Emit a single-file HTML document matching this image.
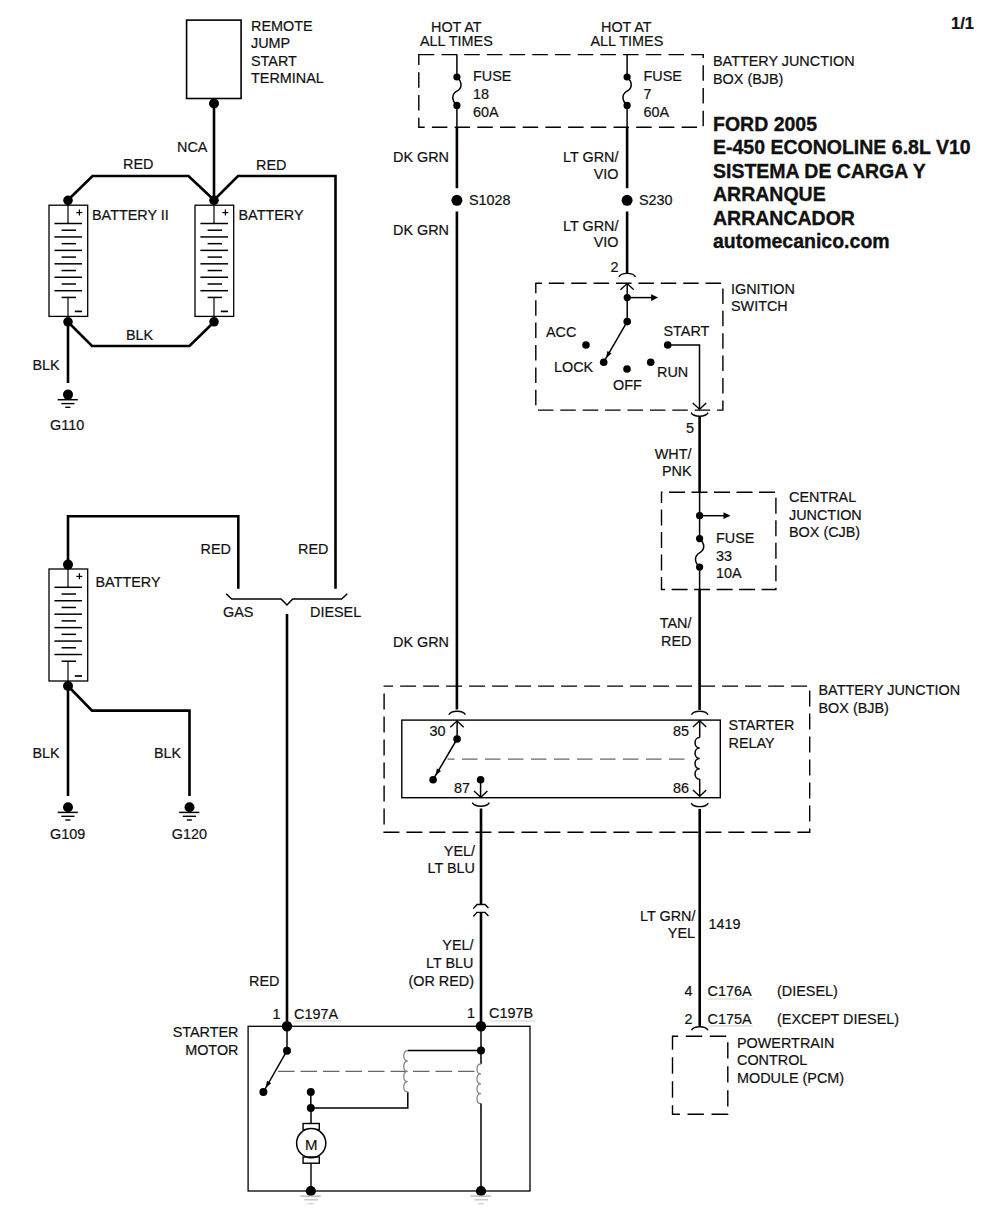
<!DOCTYPE html><html><head><meta charset="utf-8"><style>html,body{margin:0;padding:0;background:#fff;}svg{display:block;}text{font-family:"Liberation Sans",sans-serif;fill:#111;stroke:#111;stroke-width:0.2px;}</style></head><body>
<svg width="983" height="1211" viewBox="0 0 983 1211">
<rect x="0" y="0" width="983" height="1211" fill="#fff"/>
<rect x="186.6" y="20.1" width="54.5" height="78.4" fill="none" stroke="#000" stroke-width="1.6"/>
<circle cx="214" cy="103.5" r="5" fill="#000"/>
<line x1="214" y1="103.5" x2="214" y2="200" stroke="#000" stroke-width="2.6" />
<text x="251" y="31.0" font-size="14.4" >REMOTE</text>
<text x="251" y="48.4" font-size="14.4" >JUMP</text>
<text x="251" y="65.8" font-size="14.4" >START</text>
<text x="251" y="83.19999999999999" font-size="14.4" >TERMINAL</text>
<text x="177" y="151.6" font-size="14.4" >NCA</text>
<polyline points="68,200 92.5,176 188.5,176 214,200" fill="none" stroke="#000" stroke-width="2.6" stroke-linejoin="miter" />
<polyline points="214,200 238,176 335.5,176 335.5,588.8" fill="none" stroke="#000" stroke-width="2.6" stroke-linejoin="miter" />
<text x="123" y="169" font-size="14.4" >RED</text>
<text x="256" y="169.5" font-size="14.4" >RED</text>
<rect x="49" y="205.2" width="38.7" height="111.19999999999999" fill="none" stroke="#000" stroke-width="1.3"/>
<line x1="68" y1="205.2" x2="68" y2="223.5" stroke="#000" stroke-width="1.2" />
<line x1="54.4" y1="223.5" x2="82" y2="223.5" stroke="#000" stroke-width="1.5" />
<line x1="61.6" y1="230.22" x2="76" y2="230.22" stroke="#000" stroke-width="1.5" />
<line x1="54.4" y1="236.94" x2="82" y2="236.94" stroke="#000" stroke-width="1.5" />
<line x1="61.6" y1="243.66" x2="76" y2="243.66" stroke="#000" stroke-width="1.5" />
<line x1="54.4" y1="250.38" x2="82" y2="250.38" stroke="#000" stroke-width="1.5" />
<line x1="61.6" y1="257.1" x2="76" y2="257.1" stroke="#000" stroke-width="1.5" />
<line x1="54.4" y1="263.82" x2="82" y2="263.82" stroke="#000" stroke-width="1.5" />
<line x1="61.6" y1="270.54" x2="76" y2="270.54" stroke="#000" stroke-width="1.5" />
<line x1="54.4" y1="277.26" x2="82" y2="277.26" stroke="#000" stroke-width="1.5" />
<line x1="61.6" y1="283.98" x2="76" y2="283.98" stroke="#000" stroke-width="1.5" />
<line x1="54.4" y1="290.7" x2="82" y2="290.7" stroke="#000" stroke-width="1.5" />
<line x1="61.6" y1="297.42" x2="76" y2="297.42" stroke="#000" stroke-width="1.5" />
<line x1="68" y1="297.42" x2="68" y2="316.4" stroke="#000" stroke-width="1.2" />
<line x1="76.3" y1="212.6" x2="82.3" y2="212.6" stroke="#000" stroke-width="1.2" />
<line x1="79.4" y1="209.39999999999998" x2="79.4" y2="215.5" stroke="#000" stroke-width="1.2" />
<line x1="74.8" y1="311.4" x2="82" y2="311.4" stroke="#000" stroke-width="1.7" />
<rect x="195" y="205.2" width="38.69999999999999" height="111.19999999999999" fill="none" stroke="#000" stroke-width="1.3"/>
<line x1="214" y1="205.2" x2="214" y2="223.5" stroke="#000" stroke-width="1.2" />
<line x1="200.4" y1="223.5" x2="228" y2="223.5" stroke="#000" stroke-width="1.5" />
<line x1="207.6" y1="230.22" x2="222" y2="230.22" stroke="#000" stroke-width="1.5" />
<line x1="200.4" y1="236.94" x2="228" y2="236.94" stroke="#000" stroke-width="1.5" />
<line x1="207.6" y1="243.66" x2="222" y2="243.66" stroke="#000" stroke-width="1.5" />
<line x1="200.4" y1="250.38" x2="228" y2="250.38" stroke="#000" stroke-width="1.5" />
<line x1="207.6" y1="257.1" x2="222" y2="257.1" stroke="#000" stroke-width="1.5" />
<line x1="200.4" y1="263.82" x2="228" y2="263.82" stroke="#000" stroke-width="1.5" />
<line x1="207.6" y1="270.54" x2="222" y2="270.54" stroke="#000" stroke-width="1.5" />
<line x1="200.4" y1="277.26" x2="228" y2="277.26" stroke="#000" stroke-width="1.5" />
<line x1="207.6" y1="283.98" x2="222" y2="283.98" stroke="#000" stroke-width="1.5" />
<line x1="200.4" y1="290.7" x2="228" y2="290.7" stroke="#000" stroke-width="1.5" />
<line x1="207.6" y1="297.42" x2="222" y2="297.42" stroke="#000" stroke-width="1.5" />
<line x1="214" y1="297.42" x2="214" y2="316.4" stroke="#000" stroke-width="1.2" />
<line x1="222.3" y1="212.6" x2="228.3" y2="212.6" stroke="#000" stroke-width="1.2" />
<line x1="225.4" y1="209.39999999999998" x2="225.4" y2="215.5" stroke="#000" stroke-width="1.2" />
<line x1="220.8" y1="311.4" x2="228" y2="311.4" stroke="#000" stroke-width="1.7" />
<circle cx="68" cy="200.3" r="4.8" fill="#000"/>
<circle cx="214" cy="200.3" r="4.8" fill="#000"/>
<circle cx="68" cy="321.8" r="4.8" fill="#000"/>
<circle cx="214" cy="321.8" r="4.8" fill="#000"/>
<text x="92" y="220" font-size="14.4" >BATTERY II</text>
<text x="238.5" y="220" font-size="14.4" >BATTERY</text>
<polyline points="68,322 92,346 189.5,346 214,322" fill="none" stroke="#000" stroke-width="2.6" stroke-linejoin="miter" />
<text x="126" y="339.5" font-size="14.4" >BLK</text>
<line x1="68" y1="322" x2="68" y2="383" stroke="#000" stroke-width="2.6" />
<circle cx="68" cy="394.6" r="5" fill="#000"/>
<line x1="57.7" y1="399.70000000000005" x2="77.8" y2="399.70000000000005" stroke="#000" stroke-width="1.5" />
<line x1="61.3" y1="403.6" x2="74.5" y2="403.6" stroke="#000" stroke-width="1.4" />
<line x1="65.3" y1="407.3" x2="70.4" y2="407.3" stroke="#000" stroke-width="1.4" />
<text x="32.5" y="370" font-size="14.4" >BLK</text>
<text x="50" y="430.3" font-size="14.4" >G110</text>
<rect x="49" y="569" width="38.7" height="112" fill="none" stroke="#000" stroke-width="1.3"/>
<line x1="68" y1="569" x2="68" y2="587.3" stroke="#000" stroke-width="1.2" />
<line x1="54.4" y1="587.3" x2="82" y2="587.3" stroke="#000" stroke-width="1.5" />
<line x1="61.6" y1="594.02" x2="76" y2="594.02" stroke="#000" stroke-width="1.5" />
<line x1="54.4" y1="600.74" x2="82" y2="600.74" stroke="#000" stroke-width="1.5" />
<line x1="61.6" y1="607.4599999999999" x2="76" y2="607.4599999999999" stroke="#000" stroke-width="1.5" />
<line x1="54.4" y1="614.18" x2="82" y2="614.18" stroke="#000" stroke-width="1.5" />
<line x1="61.6" y1="620.9" x2="76" y2="620.9" stroke="#000" stroke-width="1.5" />
<line x1="54.4" y1="627.62" x2="82" y2="627.62" stroke="#000" stroke-width="1.5" />
<line x1="61.6" y1="634.3399999999999" x2="76" y2="634.3399999999999" stroke="#000" stroke-width="1.5" />
<line x1="54.4" y1="641.06" x2="82" y2="641.06" stroke="#000" stroke-width="1.5" />
<line x1="61.6" y1="647.78" x2="76" y2="647.78" stroke="#000" stroke-width="1.5" />
<line x1="54.4" y1="654.5" x2="82" y2="654.5" stroke="#000" stroke-width="1.5" />
<line x1="61.6" y1="661.2199999999999" x2="76" y2="661.2199999999999" stroke="#000" stroke-width="1.5" />
<line x1="68" y1="661.2199999999999" x2="68" y2="681" stroke="#000" stroke-width="1.2" />
<line x1="76.3" y1="576.4" x2="82.3" y2="576.4" stroke="#000" stroke-width="1.2" />
<line x1="79.4" y1="573.2" x2="79.4" y2="579.3" stroke="#000" stroke-width="1.2" />
<line x1="74.8" y1="676" x2="82" y2="676" stroke="#000" stroke-width="1.7" />
<circle cx="68" cy="564.6" r="5" fill="#000"/>
<circle cx="68" cy="686" r="5" fill="#000"/>
<polyline points="68,564.6 68,516.2 238.3,516.2 238.3,588.8" fill="none" stroke="#000" stroke-width="2.6" stroke-linejoin="miter" />
<text x="200.5" y="553.6" font-size="14.4" >RED</text>
<text x="95.5" y="586.7" font-size="14.4" >BATTERY</text>
<line x1="68" y1="686" x2="68" y2="796" stroke="#000" stroke-width="2.6" />
<circle cx="68" cy="807.3" r="5" fill="#000"/>
<line x1="57.7" y1="812.4" x2="77.8" y2="812.4" stroke="#000" stroke-width="1.5" />
<line x1="61.3" y1="816.3" x2="74.5" y2="816.3" stroke="#000" stroke-width="1.4" />
<line x1="65.3" y1="820.0" x2="70.4" y2="820.0" stroke="#000" stroke-width="1.4" />
<polyline points="68,686 92,710.6 189.5,710.6 189.5,796" fill="none" stroke="#000" stroke-width="2.6" stroke-linejoin="miter" />
<circle cx="189.5" cy="807.3" r="5" fill="#000"/>
<line x1="179.2" y1="812.4" x2="199.3" y2="812.4" stroke="#000" stroke-width="1.5" />
<line x1="182.8" y1="816.3" x2="196.0" y2="816.3" stroke="#000" stroke-width="1.4" />
<line x1="186.8" y1="820.0" x2="191.9" y2="820.0" stroke="#000" stroke-width="1.4" />
<text x="32.5" y="758.2" font-size="14.4" >BLK</text>
<text x="154" y="758.2" font-size="14.4" >BLK</text>
<text x="50" y="838.5" font-size="14.4" >G109</text>
<text x="171.8" y="838.5" font-size="14.4" >G120</text>
<polyline points="226.2,593.7 231.7,599 281,599 287,605 292.7,599 341.6,599 347.3,593.7" fill="none" stroke="#000" stroke-width="1.5" stroke-linejoin="miter" />
<text x="223" y="617" font-size="14.4" >GAS</text>
<text x="310" y="617" font-size="14.4" >DIESEL</text>
<text x="298" y="553.6" font-size="14.4" >RED</text>
<line x1="287" y1="614" x2="287" y2="1026" stroke="#000" stroke-width="2.6" />
<text x="249" y="985.8" font-size="14.4" >RED</text>
<rect x="248.1" y="1026.3" width="281.9" height="164.70000000000005" fill="none" stroke="#000" stroke-width="1.3"/>
<circle cx="287" cy="1026.3" r="5.2" fill="#000"/>
<circle cx="481" cy="1026.3" r="5.2" fill="#000"/>
<text x="272.5" y="1019" font-size="14.4" >1</text>
<text x="294" y="1019" font-size="14.4" >C197A</text>
<line x1="295" y1="1021" x2="341" y2="1021" stroke="#bbb" stroke-width="0.7" />
<text x="467" y="1018.4" font-size="14.4" >1</text>
<text x="489" y="1018.4" font-size="14.4" >C197B</text>
<line x1="490" y1="1021" x2="536" y2="1021" stroke="#bbb" stroke-width="0.7" />
<text x="238.5" y="1036.9" font-size="14.4" text-anchor="end" >STARTER</text>
<text x="238.5" y="1054.6" font-size="14.4" text-anchor="end" >MOTOR</text>
<line x1="287" y1="1026.3" x2="287" y2="1050.7" stroke="#000" stroke-width="1.5" />
<circle cx="287" cy="1050.7" r="4" fill="#000"/>
<line x1="287" y1="1050.7" x2="263.4" y2="1092" stroke="#000" stroke-width="1.5" />
<polygon points="265.6,1088.1 267.0,1080.8 271.2,1083.2" fill="#000"/>
<circle cx="263.4" cy="1092" r="4" fill="#000"/>
<line x1="278" y1="1071.3" x2="478" y2="1071.3" stroke="#666" stroke-width="1.2" stroke-dasharray="16.5 6"/>
<circle cx="310.8" cy="1092" r="4" fill="#000"/>
<line x1="310.8" y1="1092" x2="310.8" y2="1108" stroke="#000" stroke-width="1.5" />
<circle cx="310.8" cy="1108" r="4" fill="#000"/>
<polyline points="310.8,1108 407.8,1108 407.8,1092" fill="none" stroke="#000" stroke-width="1.5" stroke-linejoin="miter" />
<path d="M407.8,1050.7 C402.40000000000003,1050.7 402.40000000000003,1061.025 407.8,1061.025 C402.40000000000003,1061.025 402.40000000000003,1071.3500000000001 407.8,1071.3500000000001 C402.40000000000003,1071.35 402.40000000000003,1081.675 407.8,1081.675 C402.40000000000003,1081.675 402.40000000000003,1092.0 407.8,1092.0" fill="none" stroke="#888" stroke-width="1.3"/>
<line x1="407.8" y1="1050.5" x2="481" y2="1050.5" stroke="#000" stroke-width="1.5" />
<circle cx="481" cy="1050.5" r="4" fill="#000"/>
<line x1="481" y1="1026.3" x2="481" y2="1064" stroke="#000" stroke-width="1.5" />
<path d="M481,1064 C475.6,1064.0 475.6,1073.9 481,1073.9 C475.6,1073.9 475.6,1083.8000000000002 481,1083.8000000000002 C475.6,1083.8 475.6,1093.6999999999998 481,1093.6999999999998 C475.6,1093.6999999999998 475.6,1103.6 481,1103.6" fill="none" stroke="#888" stroke-width="1.3"/>
<line x1="481" y1="1103.6" x2="481" y2="1191" stroke="#000" stroke-width="1.5" />
<line x1="311" y1="1108" x2="311" y2="1123.5" stroke="#000" stroke-width="1.5" />
<rect x="303.1" y="1123.5" width="16.19999999999999" height="6.099999999999909" fill="none" stroke="#000" stroke-width="1.4"/>
<circle cx="311.2" cy="1143.2" r="14.6" fill="#fff" stroke="#000" stroke-width="1.5"/>
<text x="311.2" y="1150.3" font-size="15" text-anchor="middle" >M</text>
<rect x="303.1" y="1157" width="16.19999999999999" height="6.2000000000000455" fill="none" stroke="#000" stroke-width="1.4"/>
<line x1="311" y1="1163.2" x2="311" y2="1191" stroke="#000" stroke-width="1.4" />
<circle cx="310.8" cy="1191" r="5.1" fill="#000"/>
<line x1="300.3" y1="1196.1" x2="320.8" y2="1196.1" stroke="#aaa" stroke-width="1.2" />
<line x1="304.3" y1="1199.8" x2="317.8" y2="1199.8" stroke="#bbb" stroke-width="1.2" />
<line x1="307.8" y1="1203.7" x2="313.8" y2="1203.7" stroke="#ccc" stroke-width="1.2" />
<circle cx="481" cy="1191" r="5.1" fill="#000"/>
<line x1="470.5" y1="1196.1" x2="491" y2="1196.1" stroke="#aaa" stroke-width="1.2" />
<line x1="474.5" y1="1199.8" x2="488" y2="1199.8" stroke="#bbb" stroke-width="1.2" />
<line x1="478" y1="1203.7" x2="484" y2="1203.7" stroke="#ccc" stroke-width="1.2" />
<text x="431" y="31.5" font-size="14.4" >HOT AT</text>
<text x="420" y="46.4" font-size="14.4" >ALL TIMES</text>
<text x="601" y="31.5" font-size="14.4" >HOT AT</text>
<text x="590.5" y="46.4" font-size="14.4" >ALL TIMES</text>
<rect x="418.8" y="54.6" width="284.40000000000003" height="72.69999999999999" fill="none" stroke="#000" stroke-width="1.4" stroke-dasharray="15.5 7.2" stroke-dashoffset="0"/>
<text x="713" y="66.2" font-size="14.4" >BATTERY JUNCTION</text>
<text x="713" y="84.4" font-size="14.4" >BOX (BJB)</text>
<line x1="456.9" y1="54.6" x2="456.9" y2="77" stroke="#000" stroke-width="1.5" />
<circle cx="456.9" cy="77" r="3.6" fill="#000"/>
<circle cx="456.9" cy="105.4" r="3.6" fill="#000"/>
<path d="M456.9,77 C462.9,82.68 461.9,88.36 456.9,91.2 S450.9,99.72 456.9,105.4" fill="none" stroke="#000" stroke-width="1.5"/>
<line x1="456.9" y1="105.4" x2="456.9" y2="127.3" stroke="#000" stroke-width="1.5" />
<text x="473" y="81" font-size="14.4" >FUSE</text>
<text x="473" y="99" font-size="14.4" >18</text>
<text x="473" y="116.6" font-size="14.4" >60A</text>
<line x1="456.9" y1="127.3" x2="456.9" y2="188.2" stroke="#000" stroke-width="2.6" />
<text x="393" y="161.7" font-size="14.4" >DK GRN</text>
<circle cx="456.9" cy="200.3" r="5.5" fill="#000"/>
<text x="469" y="205.4" font-size="14.4" >S1028</text>
<line x1="456.9" y1="211.5" x2="456.9" y2="709.5" stroke="#000" stroke-width="2.6" />
<text x="393" y="234.6" font-size="14.4" >DK GRN</text>
<text x="393" y="647" font-size="14.4" >DK GRN</text>
<line x1="627.1" y1="54.6" x2="627.1" y2="77" stroke="#000" stroke-width="1.5" />
<circle cx="627.1" cy="77" r="3.6" fill="#000"/>
<circle cx="627.1" cy="105.4" r="3.6" fill="#000"/>
<path d="M627.1,77 C633.1,82.68 632.1,88.36 627.1,91.2 S621.1,99.72 627.1,105.4" fill="none" stroke="#000" stroke-width="1.5"/>
<line x1="627.1" y1="105.4" x2="627.1" y2="127.3" stroke="#000" stroke-width="1.5" />
<text x="643.5" y="81" font-size="14.4" >FUSE</text>
<text x="643.5" y="99" font-size="14.4" >7</text>
<text x="643.5" y="116.6" font-size="14.4" >60A</text>
<line x1="627.1" y1="127.3" x2="627.1" y2="188.2" stroke="#000" stroke-width="2.6" />
<text x="618.5" y="161.7" font-size="14.4" text-anchor="end" >LT GRN/</text>
<text x="618.5" y="179" font-size="14.4" text-anchor="end" >VIO</text>
<circle cx="627.1" cy="200.3" r="5.5" fill="#000"/>
<text x="639" y="205.4" font-size="14.4" >S230</text>
<line x1="627.1" y1="211.5" x2="627.1" y2="273" stroke="#000" stroke-width="2.6" />
<text x="618.5" y="230.7" font-size="14.4" text-anchor="end" >LT GRN/</text>
<text x="618.5" y="246.5" font-size="14.4" text-anchor="end" >VIO</text>
<text x="610.6" y="271.5" font-size="14.4" >2</text>
<text x="713" y="131.0" font-size="19.5" font-weight="bold" style="stroke-width:0.35px">FORD 2005</text>
<text x="713" y="154.45" font-size="19.5" font-weight="bold" style="stroke-width:0.35px">E-450 ECONOLINE 6.8L V10</text>
<text x="713" y="177.9" font-size="19.5" font-weight="bold" style="stroke-width:0.35px">SISTEMA DE CARGA Y</text>
<text x="713" y="201.35" font-size="19.5" font-weight="bold" style="stroke-width:0.35px">ARRANQUE</text>
<text x="713" y="224.8" font-size="19.5" font-weight="bold" style="stroke-width:0.35px">ARRANCADOR</text>
<text x="713" y="248.25" font-size="19.5" font-weight="bold" style="stroke-width:0.35px">automecanico.com</text>
<text x="951" y="28.8" font-size="16.5" font-weight="bold" >1/1</text>
<path d="M618.9000000000001,276.90000000000003 C621.2,272.20000000000005 633.2,272.20000000000005 635.5,276.90000000000003" fill="none" stroke="#000" stroke-width="1.4"/>
<rect x="535.8" y="283.3" width="187.10000000000002" height="126.80000000000001" fill="none" stroke="#000" stroke-width="1.4" stroke-dasharray="15.5 6.9" stroke-dashoffset="9.4"/>
<polyline points="620.4000000000001,289.8 627.2,283.6 633.8000000000001,289.8" fill="none" stroke="#000" stroke-width="1.4"/>
<line x1="627.2" y1="283.6" x2="627.2" y2="321.6" stroke="#000" stroke-width="1.5" />
<circle cx="627.2" cy="297.6" r="3.6" fill="#000"/>
<line x1="627.2" y1="297.6" x2="652.1" y2="297.6" stroke="#000" stroke-width="1.5" />
<polygon points="651.1,294.20000000000005 658.1,297.6 651.1,301.0" fill="#000"/>
<circle cx="627.2" cy="321.6" r="3.8" fill="#000"/>
<line x1="627.2" y1="321.6" x2="603.7" y2="362.2" stroke="#000" stroke-width="1.5" />
<polygon points="606.0,358.3 607.4,351.0 611.5,353.4" fill="#000"/>
<circle cx="586" cy="345" r="3.8" fill="#000"/>
<circle cx="603.7" cy="362.2" r="3.8" fill="#000"/>
<circle cx="627" cy="369" r="3.8" fill="#000"/>
<circle cx="650.7" cy="362.2" r="3.8" fill="#000"/>
<circle cx="667.7" cy="345" r="3.8" fill="#000"/>
<polyline points="667.7,345 699.5,345 699.5,409" fill="none" stroke="#000" stroke-width="1.5" stroke-linejoin="miter" />
<polyline points="692.8000000000001,403.0 699.6,409.2 706.2,403.0" fill="none" stroke="#000" stroke-width="1.4"/>
<path d="M691.1,412.7 C693.6,417.4 705.6,417.4 708.1,412.7" fill="none" stroke="#000" stroke-width="1.4"/>
<text x="546" y="336.8" font-size="14.4" >ACC</text>
<text x="663.5" y="335.8" font-size="14.4" >START</text>
<text x="554" y="372.2" font-size="14.4" >LOCK</text>
<text x="657" y="376.9" font-size="14.4" >RUN</text>
<text x="613" y="389.7" font-size="14.4" >OFF</text>
<text x="731" y="294.3" font-size="14.4" >IGNITION</text>
<text x="731" y="310.8" font-size="14.4" >SWITCH</text>
<line x1="699.6" y1="416.5" x2="699.6" y2="492" stroke="#000" stroke-width="2.6" />
<text x="686" y="432.6" font-size="14.4" >5</text>
<text x="691.5" y="458.5" font-size="14.4" text-anchor="end" >WHT/</text>
<text x="691.5" y="475.8" font-size="14.4" text-anchor="end" >PNK</text>
<rect x="661.5" y="492.2" width="114.39999999999998" height="97.30000000000001" fill="none" stroke="#000" stroke-width="1.4" stroke-dasharray="16 6.5" stroke-dashoffset="15"/>
<line x1="699.6" y1="492.1" x2="699.6" y2="538.6" stroke="#000" stroke-width="1.5" />
<circle cx="699.6" cy="515.7" r="3.6" fill="#000"/>
<line x1="699.6" y1="515.7" x2="724.5" y2="515.7" stroke="#000" stroke-width="1.5" />
<polygon points="723.5,512.3000000000001 730.5,515.7 723.5,519.1" fill="#000"/>
<circle cx="699.6" cy="538.6" r="3.6" fill="#000"/>
<circle cx="699.6" cy="567.1" r="3.6" fill="#000"/>
<path d="M699.6,538.6 C705.6,544.3000000000001 704.6,550.0 699.6,552.85 S693.6,561.4 699.6,567.1" fill="none" stroke="#000" stroke-width="1.5"/>
<line x1="699.6" y1="567.1" x2="699.6" y2="589.5" stroke="#000" stroke-width="1.5" />
<text x="716" y="542.9" font-size="14.4" >FUSE</text>
<text x="716" y="560.5" font-size="14.4" >33</text>
<text x="716" y="578" font-size="14.4" >10A</text>
<text x="789" y="501.7" font-size="14.4" >CENTRAL</text>
<text x="789" y="519.5" font-size="14.4" >JUNCTION</text>
<text x="789" y="537.3" font-size="14.4" >BOX (CJB)</text>
<line x1="699.6" y1="589.5" x2="699.6" y2="709.9" stroke="#000" stroke-width="2.6" />
<text x="691.5" y="628.4" font-size="14.4" text-anchor="end" >TAN/</text>
<text x="691.5" y="645.6" font-size="14.4" text-anchor="end" >RED</text>
<rect x="384.1" y="686.1" width="425.6" height="146.10000000000002" fill="none" stroke="#000" stroke-width="1.4" stroke-dasharray="16 7" stroke-dashoffset="7"/>
<text x="818.5" y="695.4" font-size="14.4" >BATTERY JUNCTION</text>
<text x="818.5" y="712.8" font-size="14.4" >BOX (BJB)</text>
<rect x="401.8" y="720.1" width="318.49999999999994" height="77.60000000000002" fill="none" stroke="#000" stroke-width="1.4"/>
<text x="728.5" y="730.4" font-size="14.4" >STARTER</text>
<text x="728.5" y="747.6" font-size="14.4" >RELAY</text>
<path d="M448.8,714.6999999999999 C451.1,710.0 463.1,710.0 465.40000000000003,714.6999999999999" fill="none" stroke="#000" stroke-width="1.4"/>
<polyline points="450.3,727.2 457.1,721 463.70000000000005,727.2" fill="none" stroke="#000" stroke-width="1.4"/>
<line x1="457.1" y1="721" x2="457.1" y2="739" stroke="#000" stroke-width="1.5" />
<circle cx="457.1" cy="739" r="3.8" fill="#000"/>
<line x1="457.1" y1="739" x2="433.1" y2="779.7" stroke="#000" stroke-width="1.5" />
<polygon points="435.4,775.8 436.9,768.6 441.0,771.0" fill="#000"/>
<circle cx="433.1" cy="779.7" r="3.8" fill="#000"/>
<text x="429.5" y="736" font-size="14.4" >30</text>
<line x1="447.5" y1="759.1" x2="690" y2="759.1" stroke="#666" stroke-width="1.2" stroke-dasharray="15.5 7.5" stroke-dashoffset="8.5"/>
<circle cx="480.6" cy="779.7" r="3.8" fill="#000"/>
<line x1="480.6" y1="779.7" x2="480.6" y2="797.2" stroke="#000" stroke-width="1.5" />
<polyline points="474.0,791.0999999999999 480.8,797.3 487.40000000000003,791.0999999999999" fill="none" stroke="#000" stroke-width="1.4"/>
<text x="454" y="793" font-size="14.4" >87</text>
<path d="M472.3,802.7 C474.8,807.4 486.8,807.4 489.3,802.7" fill="none" stroke="#000" stroke-width="1.4"/>
<line x1="481" y1="808.5" x2="481" y2="904.5" stroke="#000" stroke-width="2.6" />
<path d="M691.4000000000001,714.6999999999999 C693.7,710.0 705.7,710.0 708.0,714.6999999999999" fill="none" stroke="#000" stroke-width="1.4"/>
<polyline points="692.9000000000001,727.0 699.7,720.8 706.3000000000001,727.0" fill="none" stroke="#000" stroke-width="1.4"/>
<line x1="699.7" y1="720.8" x2="699.7" y2="737.6" stroke="#000" stroke-width="1.5" />
<path d="M699.7,737.6 C693.49,737.6 693.49,748.0 699.7,748.0 C693.49,748.0 693.49,758.4 699.7,758.4 C693.49,758.4000000000001 693.49,768.8000000000001 699.7,768.8000000000001 C693.49,768.8000000000001 693.49,779.2 699.7,779.2" fill="none" stroke="#000" stroke-width="1.5"/>
<line x1="699.7" y1="779.2" x2="699.7" y2="796" stroke="#000" stroke-width="1.5" />
<polyline points="692.9000000000001,790.0 699.7,796.2 706.3000000000001,790.0" fill="none" stroke="#000" stroke-width="1.4"/>
<path d="M691.2,803.1 C693.7,807.8 705.7,807.8 708.2,803.1" fill="none" stroke="#000" stroke-width="1.4"/>
<text x="673" y="736.1" font-size="14.4" >85</text>
<text x="673" y="793.3" font-size="14.4" >86</text>
<line x1="699.7" y1="808.9" x2="699.7" y2="1026" stroke="#000" stroke-width="2.6" />
<text x="475" y="855.6" font-size="14.4" text-anchor="end" >YEL/</text>
<text x="475" y="873.3" font-size="14.4" text-anchor="end" >LT BLU</text>
<polyline points="473.3,908.6 477,904.5 485,904.5 488.5,908.1" fill="none" stroke="#000" stroke-width="1.4"/>
<polyline points="473.3,916.5 477,912.4 485,912.4 488.5,916.0" fill="none" stroke="#000" stroke-width="1.4"/>
<line x1="481" y1="912.4" x2="481" y2="1026.3" stroke="#000" stroke-width="2.6" />
<text x="473.5" y="950.2" font-size="14.4" text-anchor="end" >YEL/</text>
<text x="473.5" y="968.1" font-size="14.4" text-anchor="end" >LT BLU</text>
<text x="474" y="985.8" font-size="14.4" text-anchor="end" >(OR RED)</text>
<text x="695.5" y="920.5" font-size="14.4" text-anchor="end" >LT GRN/</text>
<text x="695" y="938.3" font-size="14.4" text-anchor="end" >YEL</text>
<text x="708.5" y="928.7" font-size="14.4" >1419</text>
<text x="684.5" y="996.3" font-size="14.4" >4</text>
<text x="707.5" y="996.3" font-size="14.4" >C176A</text>
<line x1="708" y1="999" x2="753" y2="999" stroke="#bbb" stroke-width="0.7" />
<text x="777" y="996.3" font-size="14.4" >(DIESEL)</text>
<text x="684.5" y="1023.5" font-size="14.4" >2</text>
<text x="707.5" y="1023.5" font-size="14.4" >C175A</text>
<line x1="708" y1="1026" x2="753" y2="1026" stroke="#bbb" stroke-width="0.7" />
<text x="777" y="1023.5" font-size="14.4" >(EXCEPT DIESEL)</text>
<path d="M691.4000000000001,1030.3 C693.7,1025.6 705.7,1025.6 708.0,1030.3" fill="none" stroke="#000" stroke-width="1.4"/>
<rect x="672.5" y="1036.2" width="55.299999999999955" height="78.09999999999991" fill="none" stroke="#000" stroke-width="1.4" stroke-dasharray="16.4 7.6" stroke-dashoffset="10.7"/>
<text x="737" y="1047.5" font-size="14.4" >POWERTRAIN</text>
<text x="737" y="1065.2" font-size="14.4" >CONTROL</text>
<text x="737" y="1082.5" font-size="14.4" >MODULE (PCM)</text>
</svg></body></html>
